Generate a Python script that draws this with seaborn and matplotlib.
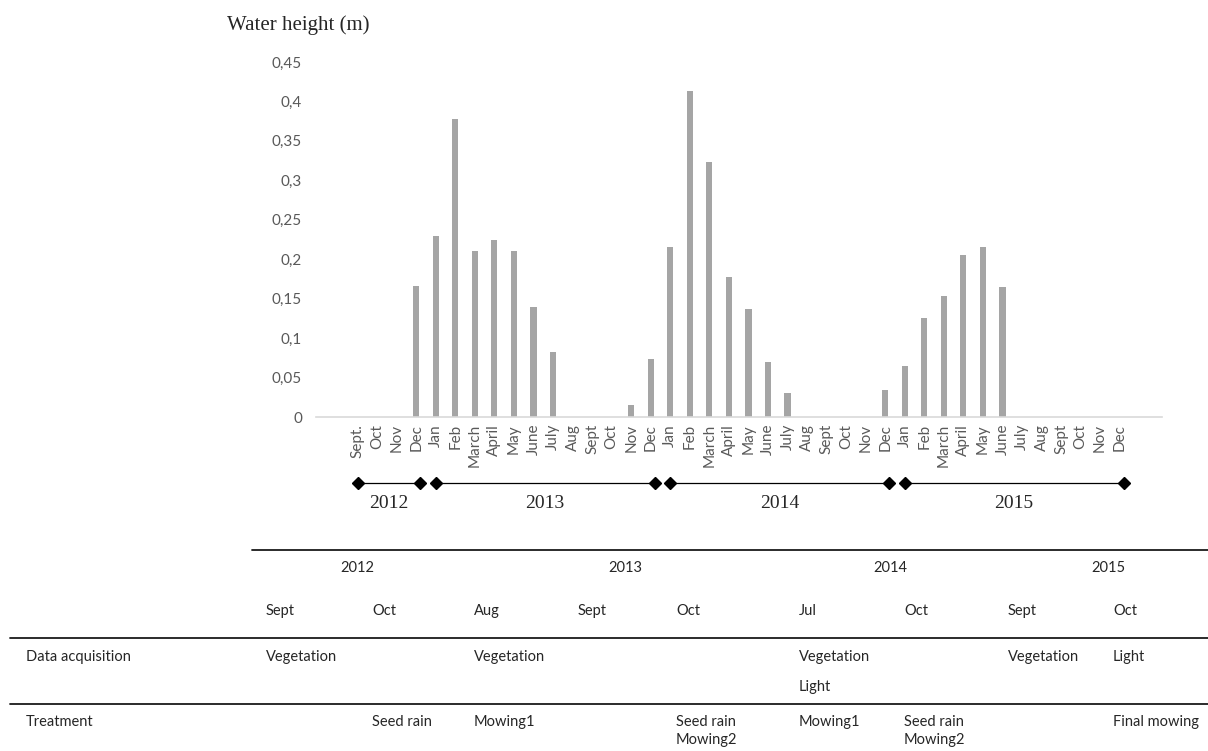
import numpy as np
import pandas as pd
import matplotlib
matplotlib.use('Agg')
import matplotlib.pyplot as plt
import seaborn as sns
from matplotlib.lines import Line2D
from matplotlib.ticker import FuncFormatter
from matplotlib.transforms import blended_transform_factory

# monthly water height, Sept 2012 -> Dec 2015
mois = ['Sept.', 'Oct', 'Nov', 'Dec',
        'Jan', 'Feb', 'March', 'April', 'May', 'June', 'July', 'Aug', 'Sept', 'Oct', 'Nov', 'Dec',
        'Jan', 'Feb', 'March', 'April', 'May', 'June', 'July', 'Aug', 'Sept', 'Oct', 'Nov', 'Dec',
        'Jan', 'Feb', 'March', 'April', 'May', 'June', 'July', 'Aug', 'Sept', 'Oct', 'Nov', 'Dec']
annees = ['2012'] * 4 + ['2013'] * 12 + ['2014'] * 12 + ['2015'] * 12
hauteur = [0, 0, 0, 0.166,
           0.230, 0.378, 0.211, 0.224, 0.211, 0.139, 0.083, 0, 0, 0, 0.015, 0.073,
           0.216, 0.413, 0.323, 0.178, 0.137, 0.070, 0.030, 0, 0, 0, 0, 0.034,
           0.065, 0.126, 0.154, 0.205, 0.215, 0.165, 0, 0, 0, 0, 0, 0]

# table under the chart
tab_annees = ['2012', '2013', '2014', '2015']
tab_mois = ['Sept', 'Oct', 'Aug', 'Sept', 'Oct', 'Jul', 'Oct', 'Sept', 'Oct']
acquisition = ['Vegetation', '', 'Vegetation', '', '', 'Vegetation\nLight', '', 'Vegetation', 'Light']
traitement = ['', 'Seed rain', 'Mowing1', '', 'Seed rain\nMowing2', 'Mowing1', 'Seed rain\nMowing2', '', 'Final mowing']

df = pd.DataFrame({'pos': np.arange(len(mois)), 'mois': mois, 'annee': annees, 'hauteur': hauteur})

sns.set_style('white')
plt.rcParams['font.family'] = ['Lato', 'DejaVu Sans']

W, H = 1208, 751
fig = plt.figure(figsize=(W / 100, H / 100), dpi=100)
ax = fig.add_axes([316 / W, 1 - 417 / H, 846 / W, 355 / H])

sns.barplot(data=df, x='pos', y='hauteur', color='#A5A5A5', width=0.32,
            saturation=1, ax=ax, edgecolor='none')

ax.set_ylim(0, 0.45)
ax.set_yticks(np.arange(0, 0.46, 0.05))
ax.yaxis.set_major_formatter(FuncFormatter(lambda v, p: f'{round(v, 2):g}'.replace('.', ',')))
ax.set_xticks(df['pos'])
ax.set_xticklabels(df['mois'], rotation=90)
ax.tick_params(axis='y', length=0, pad=10, labelsize=11, labelcolor='#595959')
ax.tick_params(axis='x', length=0, pad=5, labelsize=11, labelcolor='#595959')
ax.set_xlabel('')
ax.set_ylabel('')
for s in ['left', 'right', 'top']:
    ax.spines[s].set_visible(False)
ax.spines['bottom'].set_color('#D9D9D9')
ax.spines['bottom'].set_linewidth(1.2)

fig.text(227 / W, 1 - 25 / H, 'Water height (m)', family='Liberation Serif',
         fontsize=15, va='center', ha='left')

# year timeline under the month labels
trans = blended_transform_factory(ax.transData, fig.transFigure)
y_ligne = 1 - 483 / H
y_an = 1 - 503 / H
for an, grp in df.groupby('annee'):
    x0 = grp['pos'].min()
    x1 = grp['pos'].max() + 0.2
    ax.plot([x0, x1], [y_ligne, y_ligne], color='black', lw=0.9, marker='D',
            markersize=6.5, transform=trans, clip_on=False)
    ax.text((x0 + x1) / 2, y_an, an, transform=trans, ha='center', va='center',
            family='Liberation Serif', fontsize=14)

# table
def fx(x):
    return x / W

def fy(y):
    return 1 - y / H

for y, x0 in [(550, 252), (638, 10), (704, 10)]:
    fig.add_artist(Line2D([fx(x0), 1], [fy(y), fy(y)], color='#1a1a1a', lw=1.3,
                          transform=fig.transFigure))

for an, x in zip(tab_annees, [357, 625, 890, 1108]):
    fig.text(fx(x), fy(568), an, ha='center', va='center', fontsize=10.5)

col_x = [266, 372, 474, 578, 676, 799, 904, 1008, 1113]
for m, x in zip(tab_mois, col_x):
    fig.text(fx(x), fy(611), m, ha='left', va='center', fontsize=10.5)

fig.text(fx(26), fy(657), 'Data acquisition', ha='left', va='center', fontsize=10.5)
fig.text(fx(26), fy(722), 'Treatment', ha='left', va='center', fontsize=10.5)

for cell, x in zip(acquisition, col_x):
    for k, ligne in enumerate(cell.split('\n')):
        if ligne:
            fig.text(fx(x), fy(657 + 30 * k), ligne, ha='left', va='center', fontsize=10.5)

for cell, x in zip(traitement, col_x):
    for k, ligne in enumerate(cell.split('\n')):
        if ligne:
            fig.text(fx(x), fy(722 + 18 * k), ligne, ha='left', va='center', fontsize=10.5)

fig.savefig('out.png', dpi=100)
